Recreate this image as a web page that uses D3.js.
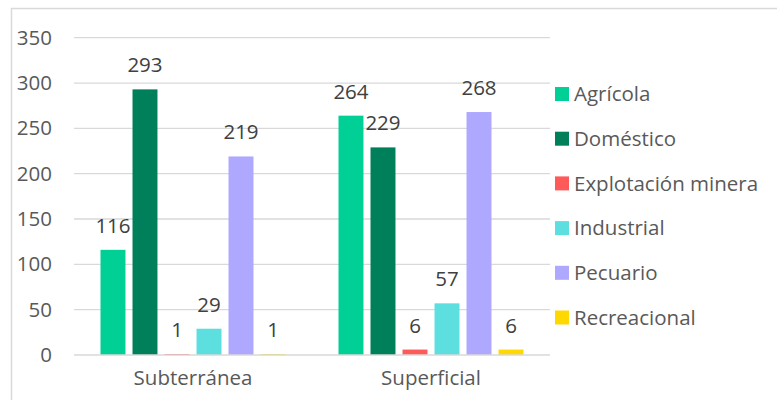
<!DOCTYPE html>
<html>
<head>
<meta charset="utf-8">
<script src="https://cdn.jsdelivr.net/npm/d3@7"></script>
<style>
  html, body { margin: 0; padding: 0; background: #fff; }
  svg { display: block; font-family: "Open Sans", sans-serif; }
</style>
</head>
<body>
<svg id="chart" width="777" height="400"></svg>
<script>
// Water use by source type and sector
const categories = ["Subterránea", "Superficial"];
const seriesNames = ["Agrícola", "Doméstico", "Explotación minera", "Industrial", "Pecuario", "Recreacional"];
const seriesColors = ["#00D096", "#00805A", "#FF5A5A", "#5EDFDF", "#AEA8FF", "#FFD800"];
const agricola = [116, 264];
const domestico = [293, 229];
const minera = [1, 6];
const industrial = [29, 57];
const pecuario = [219, 268];
const recreacional = [1, 6];
const yTicks = [0, 50, 100, 150, 200, 250, 300, 350];

const seriesValues = [agricola, domestico, minera, industrial, pecuario, recreacional];

const svg = d3.select("#chart");
const plotLeft = 74, plotRight = 550, plotTop = 37.7, plotBottom = 355;
const fontSize = 20.5;

// Outer frame
svg.append("path")
  .attr("d", `M11.5,400 V8.5 H777`)
  .attr("fill", "none")
  .attr("stroke", "#d9d9d9")
  .attr("stroke-width", 1.5);

const x0 = d3.scaleBand().domain(categories).range([plotLeft, plotRight]).paddingInner(0).paddingOuter(0);
const x1 = d3.scaleBand().domain(seriesNames).range([26.5, x0.bandwidth() - 26.5]).paddingInner(0.22).paddingOuter(0);
const y = d3.scaleLinear().domain([0, 350]).range([plotBottom, plotTop]);

// Gridlines (behind the bars)
svg.append("g").selectAll("line").data(yTicks.filter(t => t > 0)).join("line")
  .attr("x1", plotLeft).attr("x2", plotRight)
  .attr("y1", d => y(d)).attr("y2", d => y(d))
  .attr("stroke", "#d9d9d9").attr("stroke-width", 1.3);

// Y axis labels
const yAxis = d3.axisLeft(y).tickValues(yTicks).tickSize(0).tickPadding(0);
const yg = svg.append("g").attr("transform", `translate(52,0)`).call(yAxis);
yg.select(".domain").remove();
yg.selectAll("text").attr("font-size", fontSize).attr("fill", "#595959")
  .attr("font-family", "Open Sans, sans-serif");

// X axis labels
const xAxis = d3.axisBottom(x0).tickSize(0).tickPadding(0);
const xg = svg.append("g").attr("transform", `translate(0,370)`).call(xAxis);
xg.select(".domain").remove();
xg.selectAll("text").attr("font-size", fontSize).attr("fill", "#595959")
  .attr("font-family", "Open Sans, sans-serif");

// Bars and value labels
const groups = svg.append("g").selectAll("g").data(categories).join("g")
  .attr("transform", c => `translate(${x0(c)},0)`);

groups.each(function(c, ci) {
  const g = d3.select(this);
  const rows = seriesNames.map((s, si) => ({ s, v: seriesValues[si][ci], color: seriesColors[si] }));
  g.selectAll("rect").data(rows).join("rect")
    .attr("x", d => x1(d.s))
    .attr("width", x1.bandwidth())
    .attr("y", d => y(d.v))
    .attr("height", d => y(0) - y(d.v))
    .attr("fill", d => d.color);
  g.selectAll("text").data(rows).join("text")
    .attr("x", d => x1(d.s) + x1.bandwidth() / 2)
    .attr("y", d => y(d.v) - 17)
    .attr("text-anchor", "middle")
    .attr("font-size", fontSize)
    .attr("fill", "#404040")
    .text(d => d.v);
});

// Category axis line drawn over the bars
svg.append("line")
  .attr("x1", plotLeft).attr("x2", plotRight)
  .attr("y1", y(0)).attr("y2", y(0))
  .attr("stroke", "#d9d9d9").attr("stroke-width", 1.5);

// Legend
const legend = svg.append("g").selectAll("g").data(seriesNames).join("g")
  .attr("transform", (d, i) => `translate(555,${94 + i * 44.7})`);
legend.append("rect").attr("x", 0).attr("y", -7).attr("width", 14).attr("height", 14)
  .attr("fill", (d, i) => seriesColors[i]);
legend.append("text").attr("x", 19).attr("y", 0).attr("dy", "0.35em")
  .attr("font-size", fontSize).attr("fill", "#595959").text(d => d);
</script>
</body>
</html>
